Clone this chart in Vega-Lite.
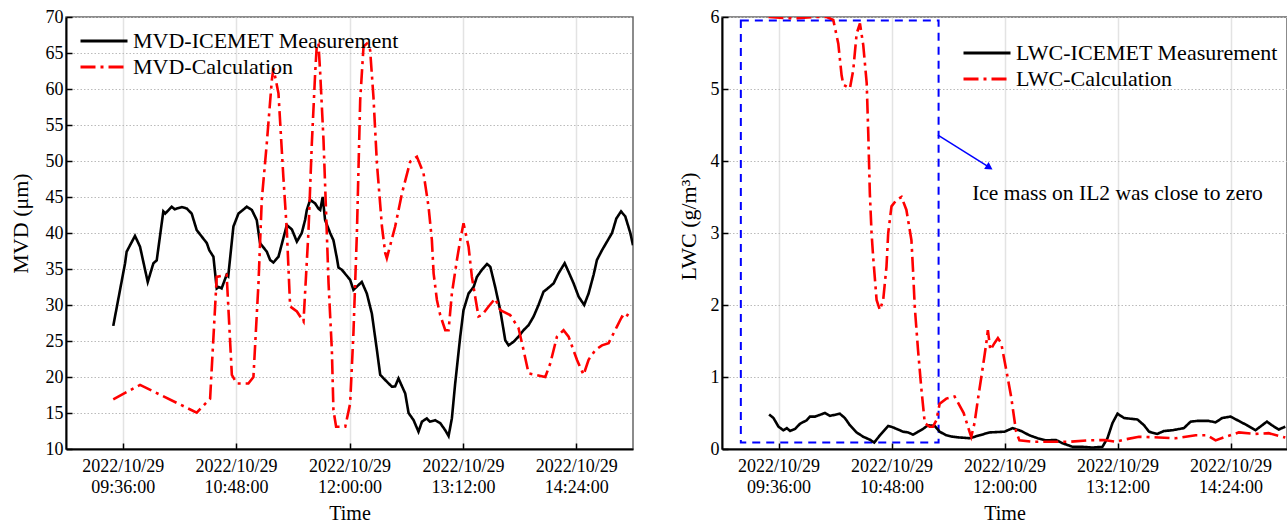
{
  "$schema": "https://vega.github.io/schema/vega-lite/v6.json",
  "padding": {"left": 8, "top": 7, "right": 0, "bottom": 0},
  "datasets": {
    "mvd": [
      {"time":"2022-10-29T09:30:00","series":"MVD-ICEMET Measurement","value":27.1},
      {"time":"2022-10-29T09:37:30","series":"MVD-ICEMET Measurement","value":35.8},
      {"time":"2022-10-29T09:38:30","series":"MVD-ICEMET Measurement","value":37.4},
      {"time":"2022-10-29T09:43:48","series":"MVD-ICEMET Measurement","value":39.6},
      {"time":"2022-10-29T09:47:00","series":"MVD-ICEMET Measurement","value":38.1},
      {"time":"2022-10-29T09:51:54","series":"MVD-ICEMET Measurement","value":33.2},
      {"time":"2022-10-29T09:55:30","series":"MVD-ICEMET Measurement","value":35.8},
      {"time":"2022-10-29T09:57:36","series":"MVD-ICEMET Measurement","value":36.2},
      {"time":"2022-10-29T10:01:48","series":"MVD-ICEMET Measurement","value":43.0},
      {"time":"2022-10-29T10:03:00","series":"MVD-ICEMET Measurement","value":42.7},
      {"time":"2022-10-29T10:07:06","series":"MVD-ICEMET Measurement","value":43.65},
      {"time":"2022-10-29T10:09:00","series":"MVD-ICEMET Measurement","value":43.3},
      {"time":"2022-10-29T10:13:30","series":"MVD-ICEMET Measurement","value":43.6},
      {"time":"2022-10-29T10:16:42","series":"MVD-ICEMET Measurement","value":43.4},
      {"time":"2022-10-29T10:19:48","series":"MVD-ICEMET Measurement","value":42.7},
      {"time":"2022-10-29T10:23:00","series":"MVD-ICEMET Measurement","value":40.4},
      {"time":"2022-10-29T10:26:12","series":"MVD-ICEMET Measurement","value":39.5},
      {"time":"2022-10-29T10:29:24","series":"MVD-ICEMET Measurement","value":38.6},
      {"time":"2022-10-29T10:31:00","series":"MVD-ICEMET Measurement","value":37.6},
      {"time":"2022-10-29T10:33:36","series":"MVD-ICEMET Measurement","value":36.7},
      {"time":"2022-10-29T10:35:42","series":"MVD-ICEMET Measurement","value":32.3},
      {"time":"2022-10-29T10:37:00","series":"MVD-ICEMET Measurement","value":32.5},
      {"time":"2022-10-29T10:38:48","series":"MVD-ICEMET Measurement","value":32.3},
      {"time":"2022-10-29T10:42:00","series":"MVD-ICEMET Measurement","value":34.2},
      {"time":"2022-10-29T10:43:00","series":"MVD-ICEMET Measurement","value":34.0},
      {"time":"2022-10-29T10:46:18","series":"MVD-ICEMET Measurement","value":40.9},
      {"time":"2022-10-29T10:49:30","series":"MVD-ICEMET Measurement","value":42.7},
      {"time":"2022-10-29T10:54:48","series":"MVD-ICEMET Measurement","value":43.65},
      {"time":"2022-10-29T10:58:00","series":"MVD-ICEMET Measurement","value":43.2},
      {"time":"2022-10-29T11:01:06","series":"MVD-ICEMET Measurement","value":41.8},
      {"time":"2022-10-29T11:03:12","series":"MVD-ICEMET Measurement","value":38.6},
      {"time":"2022-10-29T11:07:30","series":"MVD-ICEMET Measurement","value":37.4},
      {"time":"2022-10-29T11:09:36","series":"MVD-ICEMET Measurement","value":36.25},
      {"time":"2022-10-29T11:11:42","series":"MVD-ICEMET Measurement","value":35.9},
      {"time":"2022-10-29T11:14:54","series":"MVD-ICEMET Measurement","value":36.7},
      {"time":"2022-10-29T11:20:12","series":"MVD-ICEMET Measurement","value":41.1},
      {"time":"2022-10-29T11:23:24","series":"MVD-ICEMET Measurement","value":40.5},
      {"time":"2022-10-29T11:26:36","series":"MVD-ICEMET Measurement","value":38.8},
      {"time":"2022-10-29T11:29:42","series":"MVD-ICEMET Measurement","value":40.0},
      {"time":"2022-10-29T11:31:48","series":"MVD-ICEMET Measurement","value":41.8},
      {"time":"2022-10-29T11:32:54","series":"MVD-ICEMET Measurement","value":43.2},
      {"time":"2022-10-29T11:35:00","series":"MVD-ICEMET Measurement","value":44.6},
      {"time":"2022-10-29T11:38:12","series":"MVD-ICEMET Measurement","value":44.1},
      {"time":"2022-10-29T11:40:18","series":"MVD-ICEMET Measurement","value":43.4},
      {"time":"2022-10-29T11:41:24","series":"MVD-ICEMET Measurement","value":43.2},
      {"time":"2022-10-29T11:43:00","series":"MVD-ICEMET Measurement","value":45.0},
      {"time":"2022-10-29T11:44:30","series":"MVD-ICEMET Measurement","value":41.8},
      {"time":"2022-10-29T11:47:42","series":"MVD-ICEMET Measurement","value":40.0},
      {"time":"2022-10-29T11:49:48","series":"MVD-ICEMET Measurement","value":39.0},
      {"time":"2022-10-29T11:52:00","series":"MVD-ICEMET Measurement","value":36.5},
      {"time":"2022-10-29T11:53:00","series":"MVD-ICEMET Measurement","value":35.2},
      {"time":"2022-10-29T11:55:06","series":"MVD-ICEMET Measurement","value":34.9},
      {"time":"2022-10-29T12:00:24","series":"MVD-ICEMET Measurement","value":33.5},
      {"time":"2022-10-29T12:02:30","series":"MVD-ICEMET Measurement","value":32.1},
      {"time":"2022-10-29T12:07:48","series":"MVD-ICEMET Measurement","value":33.2},
      {"time":"2022-10-29T12:11:00","series":"MVD-ICEMET Measurement","value":31.6},
      {"time":"2022-10-29T12:14:12","series":"MVD-ICEMET Measurement","value":28.8},
      {"time":"2022-10-29T12:17:24","series":"MVD-ICEMET Measurement","value":23.75},
      {"time":"2022-10-29T12:19:30","series":"MVD-ICEMET Measurement","value":20.3},
      {"time":"2022-10-29T12:23:42","series":"MVD-ICEMET Measurement","value":19.35},
      {"time":"2022-10-29T12:26:54","series":"MVD-ICEMET Measurement","value":18.65},
      {"time":"2022-10-29T12:29:00","series":"MVD-ICEMET Measurement","value":18.7},
      {"time":"2022-10-29T12:31:06","series":"MVD-ICEMET Measurement","value":19.8},
      {"time":"2022-10-29T12:35:24","series":"MVD-ICEMET Measurement","value":17.7},
      {"time":"2022-10-29T12:37:30","series":"MVD-ICEMET Measurement","value":15.0},
      {"time":"2022-10-29T12:40:42","series":"MVD-ICEMET Measurement","value":14.0},
      {"time":"2022-10-29T12:43:48","series":"MVD-ICEMET Measurement","value":12.4},
      {"time":"2022-10-29T12:46:00","series":"MVD-ICEMET Measurement","value":13.8},
      {"time":"2022-10-29T12:49:06","series":"MVD-ICEMET Measurement","value":14.25},
      {"time":"2022-10-29T12:51:00","series":"MVD-ICEMET Measurement","value":13.8},
      {"time":"2022-10-29T12:54:24","series":"MVD-ICEMET Measurement","value":14.0},
      {"time":"2022-10-29T12:57:36","series":"MVD-ICEMET Measurement","value":13.6},
      {"time":"2022-10-29T13:00:48","series":"MVD-ICEMET Measurement","value":12.6},
      {"time":"2022-10-29T13:02:54","series":"MVD-ICEMET Measurement","value":11.8},
      {"time":"2022-10-29T13:05:00","series":"MVD-ICEMET Measurement","value":14.25},
      {"time":"2022-10-29T13:07:06","series":"MVD-ICEMET Measurement","value":19.1},
      {"time":"2022-10-29T13:10:18","series":"MVD-ICEMET Measurement","value":25.6},
      {"time":"2022-10-29T13:12:24","series":"MVD-ICEMET Measurement","value":29.3},
      {"time":"2022-10-29T13:15:36","series":"MVD-ICEMET Measurement","value":31.6},
      {"time":"2022-10-29T13:18:48","series":"MVD-ICEMET Measurement","value":32.5},
      {"time":"2022-10-29T13:20:54","series":"MVD-ICEMET Measurement","value":33.9},
      {"time":"2022-10-29T13:24:06","series":"MVD-ICEMET Measurement","value":34.9},
      {"time":"2022-10-29T13:27:18","series":"MVD-ICEMET Measurement","value":35.7},
      {"time":"2022-10-29T13:29:24","series":"MVD-ICEMET Measurement","value":35.3},
      {"time":"2022-10-29T13:32:30","series":"MVD-ICEMET Measurement","value":32.5},
      {"time":"2022-10-29T13:35:42","series":"MVD-ICEMET Measurement","value":29.3},
      {"time":"2022-10-29T13:38:54","series":"MVD-ICEMET Measurement","value":25.1},
      {"time":"2022-10-29T13:41:00","series":"MVD-ICEMET Measurement","value":24.4},
      {"time":"2022-10-29T13:44:12","series":"MVD-ICEMET Measurement","value":24.9},
      {"time":"2022-10-29T13:47:18","series":"MVD-ICEMET Measurement","value":25.6},
      {"time":"2022-10-29T13:50:30","series":"MVD-ICEMET Measurement","value":26.5},
      {"time":"2022-10-29T13:53:42","series":"MVD-ICEMET Measurement","value":27.2},
      {"time":"2022-10-29T13:56:54","series":"MVD-ICEMET Measurement","value":28.4},
      {"time":"2022-10-29T14:00:00","series":"MVD-ICEMET Measurement","value":30.0},
      {"time":"2022-10-29T14:03:12","series":"MVD-ICEMET Measurement","value":31.85},
      {"time":"2022-10-29T14:05:18","series":"MVD-ICEMET Measurement","value":32.2},
      {"time":"2022-10-29T14:09:36","series":"MVD-ICEMET Measurement","value":33.0},
      {"time":"2022-10-29T14:12:42","series":"MVD-ICEMET Measurement","value":34.4},
      {"time":"2022-10-29T14:16:36","series":"MVD-ICEMET Measurement","value":35.8},
      {"time":"2022-10-29T14:19:06","series":"MVD-ICEMET Measurement","value":34.6},
      {"time":"2022-10-29T14:22:18","series":"MVD-ICEMET Measurement","value":33.0},
      {"time":"2022-10-29T14:25:30","series":"MVD-ICEMET Measurement","value":31.15},
      {"time":"2022-10-29T14:29:00","series":"MVD-ICEMET Measurement","value":30.0},
      {"time":"2022-10-29T14:31:48","series":"MVD-ICEMET Measurement","value":31.6},
      {"time":"2022-10-29T14:35:00","series":"MVD-ICEMET Measurement","value":34.2},
      {"time":"2022-10-29T14:37:06","series":"MVD-ICEMET Measurement","value":36.25},
      {"time":"2022-10-29T14:40:18","series":"MVD-ICEMET Measurement","value":37.6},
      {"time":"2022-10-29T14:43:30","series":"MVD-ICEMET Measurement","value":38.8},
      {"time":"2022-10-29T14:46:42","series":"MVD-ICEMET Measurement","value":40.0},
      {"time":"2022-10-29T14:49:24","series":"MVD-ICEMET Measurement","value":42.0},
      {"time":"2022-10-29T14:52:24","series":"MVD-ICEMET Measurement","value":43.0},
      {"time":"2022-10-29T14:55:06","series":"MVD-ICEMET Measurement","value":42.3},
      {"time":"2022-10-29T14:58:18","series":"MVD-ICEMET Measurement","value":40.0},
      {"time":"2022-10-29T15:00:00","series":"MVD-ICEMET Measurement","value":38.3},
      {"time":"2022-10-29T09:30:00","series":"MVD-Calculation","value":16.9},
      {"time":"2022-10-29T09:47:00","series":"MVD-Calculation","value":18.9},
      {"time":"2022-10-29T10:23:00","series":"MVD-Calculation","value":15.05},
      {"time":"2022-10-29T10:31:30","series":"MVD-Calculation","value":17.0},
      {"time":"2022-10-29T10:35:42","series":"MVD-Calculation","value":33.9},
      {"time":"2022-10-29T10:42:00","series":"MVD-Calculation","value":34.2},
      {"time":"2022-10-29T10:45:18","series":"MVD-Calculation","value":20.3},
      {"time":"2022-10-29T10:48:24","series":"MVD-Calculation","value":19.1},
      {"time":"2022-10-29T10:55:48","series":"MVD-Calculation","value":19.1},
      {"time":"2022-10-29T10:59:00","series":"MVD-Calculation","value":20.0},
      {"time":"2022-10-29T11:02:12","series":"MVD-Calculation","value":33.0},
      {"time":"2022-10-29T11:04:18","series":"MVD-Calculation","value":44.6},
      {"time":"2022-10-29T11:07:30","series":"MVD-Calculation","value":52.5},
      {"time":"2022-10-29T11:10:42","series":"MVD-Calculation","value":61.25},
      {"time":"2022-10-29T11:11:42","series":"MVD-Calculation","value":62.9},
      {"time":"2022-10-29T11:14:54","series":"MVD-Calculation","value":59.4},
      {"time":"2022-10-29T11:18:00","series":"MVD-Calculation","value":47.8},
      {"time":"2022-10-29T11:20:12","series":"MVD-Calculation","value":40.4},
      {"time":"2022-10-29T11:22:18","series":"MVD-Calculation","value":29.8},
      {"time":"2022-10-29T11:26:36","series":"MVD-Calculation","value":29.1},
      {"time":"2022-10-29T11:30:48","series":"MVD-Calculation","value":27.7},
      {"time":"2022-10-29T11:33:54","series":"MVD-Calculation","value":40.0},
      {"time":"2022-10-29T11:36:06","series":"MVD-Calculation","value":52.5},
      {"time":"2022-10-29T11:38:12","series":"MVD-Calculation","value":62.2},
      {"time":"2022-10-29T11:39:18","series":"MVD-Calculation","value":66.3},
      {"time":"2022-10-29T11:40:18","series":"MVD-Calculation","value":66.3},
      {"time":"2022-10-29T11:41:24","series":"MVD-Calculation","value":62.2},
      {"time":"2022-10-29T11:43:30","series":"MVD-Calculation","value":52.9},
      {"time":"2022-10-29T11:45:36","series":"MVD-Calculation","value":40.0},
      {"time":"2022-10-29T11:46:42","series":"MVD-Calculation","value":33.0},
      {"time":"2022-10-29T11:48:48","series":"MVD-Calculation","value":23.75},
      {"time":"2022-10-29T11:49:48","series":"MVD-Calculation","value":15.4},
      {"time":"2022-10-29T11:51:30","series":"MVD-Calculation","value":13.1},
      {"time":"2022-10-29T11:57:18","series":"MVD-Calculation","value":13.1},
      {"time":"2022-10-29T12:00:24","series":"MVD-Calculation","value":16.3},
      {"time":"2022-10-29T12:02:30","series":"MVD-Calculation","value":26.1},
      {"time":"2022-10-29T12:04:42","series":"MVD-Calculation","value":40.0},
      {"time":"2022-10-29T12:06:48","series":"MVD-Calculation","value":58.5},
      {"time":"2022-10-29T12:08:54","series":"MVD-Calculation","value":65.9},
      {"time":"2022-10-29T12:11:00","series":"MVD-Calculation","value":66.3},
      {"time":"2022-10-29T12:13:06","series":"MVD-Calculation","value":65.4},
      {"time":"2022-10-29T12:15:12","series":"MVD-Calculation","value":58.9},
      {"time":"2022-10-29T12:17:24","series":"MVD-Calculation","value":49.7},
      {"time":"2022-10-29T12:20:36","series":"MVD-Calculation","value":40.9},
      {"time":"2022-10-29T12:22:42","series":"MVD-Calculation","value":37.2},
      {"time":"2022-10-29T12:23:42","series":"MVD-Calculation","value":36.5},
      {"time":"2022-10-29T12:29:00","series":"MVD-Calculation","value":40.9},
      {"time":"2022-10-29T12:33:18","series":"MVD-Calculation","value":45.5},
      {"time":"2022-10-29T12:38:30","series":"MVD-Calculation","value":49.9},
      {"time":"2022-10-29T12:42:48","series":"MVD-Calculation","value":50.6},
      {"time":"2022-10-29T12:47:00","series":"MVD-Calculation","value":48.3},
      {"time":"2022-10-29T12:50:12","series":"MVD-Calculation","value":43.65},
      {"time":"2022-10-29T12:52:18","series":"MVD-Calculation","value":39.0},
      {"time":"2022-10-29T12:53:24","series":"MVD-Calculation","value":34.4},
      {"time":"2022-10-29T12:55:30","series":"MVD-Calculation","value":30.7},
      {"time":"2022-10-29T12:57:36","series":"MVD-Calculation","value":28.6},
      {"time":"2022-10-29T13:00:48","series":"MVD-Calculation","value":26.5},
      {"time":"2022-10-29T13:02:54","series":"MVD-Calculation","value":26.5},
      {"time":"2022-10-29T13:05:00","series":"MVD-Calculation","value":31.6},
      {"time":"2022-10-29T13:08:12","series":"MVD-Calculation","value":36.25},
      {"time":"2022-10-29T13:10:18","series":"MVD-Calculation","value":39.0},
      {"time":"2022-10-29T13:12:24","series":"MVD-Calculation","value":41.35},
      {"time":"2022-10-29T13:15:36","series":"MVD-Calculation","value":38.1},
      {"time":"2022-10-29T13:17:42","series":"MVD-Calculation","value":33.9},
      {"time":"2022-10-29T13:21:54","series":"MVD-Calculation","value":28.4},
      {"time":"2022-10-29T13:24:06","series":"MVD-Calculation","value":28.6},
      {"time":"2022-10-29T13:28:18","series":"MVD-Calculation","value":29.8},
      {"time":"2022-10-29T13:32:30","series":"MVD-Calculation","value":30.9},
      {"time":"2022-10-29T13:35:42","series":"MVD-Calculation","value":29.3},
      {"time":"2022-10-29T13:42:00","series":"MVD-Calculation","value":28.6},
      {"time":"2022-10-29T13:47:18","series":"MVD-Calculation","value":26.8},
      {"time":"2022-10-29T13:50:30","series":"MVD-Calculation","value":23.75},
      {"time":"2022-10-29T13:53:42","series":"MVD-Calculation","value":20.5},
      {"time":"2022-10-29T14:04:18","series":"MVD-Calculation","value":20.0},
      {"time":"2022-10-29T14:07:30","series":"MVD-Calculation","value":21.9},
      {"time":"2022-10-29T14:11:42","series":"MVD-Calculation","value":25.6},
      {"time":"2022-10-29T14:15:54","series":"MVD-Calculation","value":26.5},
      {"time":"2022-10-29T14:19:06","series":"MVD-Calculation","value":25.6},
      {"time":"2022-10-29T14:24:24","series":"MVD-Calculation","value":22.4},
      {"time":"2022-10-29T14:28:36","series":"MVD-Calculation","value":20.3},
      {"time":"2022-10-29T14:31:48","series":"MVD-Calculation","value":22.4},
      {"time":"2022-10-29T14:36:06","series":"MVD-Calculation","value":23.75},
      {"time":"2022-10-29T14:40:18","series":"MVD-Calculation","value":24.4},
      {"time":"2022-10-29T14:44:30","series":"MVD-Calculation","value":24.7},
      {"time":"2022-10-29T14:49:48","series":"MVD-Calculation","value":27.0},
      {"time":"2022-10-29T14:53:00","series":"MVD-Calculation","value":28.4},
      {"time":"2022-10-29T14:55:06","series":"MVD-Calculation","value":28.1},
      {"time":"2022-10-29T14:58:18","series":"MVD-Calculation","value":29.3}
    ],
    "lwc": [
      {"time":"2022-10-29T09:30:00","series":"LWC-ICEMET Measurement","value":0.48},
      {"time":"2022-10-29T09:32:48","series":"LWC-ICEMET Measurement","value":0.43},
      {"time":"2022-10-29T09:36:00","series":"LWC-ICEMET Measurement","value":0.31},
      {"time":"2022-10-29T09:39:06","series":"LWC-ICEMET Measurement","value":0.26},
      {"time":"2022-10-29T09:41:18","series":"LWC-ICEMET Measurement","value":0.29},
      {"time":"2022-10-29T09:43:24","series":"LWC-ICEMET Measurement","value":0.25},
      {"time":"2022-10-29T09:46:36","series":"LWC-ICEMET Measurement","value":0.28},
      {"time":"2022-10-29T09:49:42","series":"LWC-ICEMET Measurement","value":0.35},
      {"time":"2022-10-29T09:54:00","series":"LWC-ICEMET Measurement","value":0.40},
      {"time":"2022-10-29T09:56:06","series":"LWC-ICEMET Measurement","value":0.45},
      {"time":"2022-10-29T09:59:18","series":"LWC-ICEMET Measurement","value":0.45},
      {"time":"2022-10-29T10:05:36","series":"LWC-ICEMET Measurement","value":0.50},
      {"time":"2022-10-29T10:08:48","series":"LWC-ICEMET Measurement","value":0.46},
      {"time":"2022-10-29T10:15:06","series":"LWC-ICEMET Measurement","value":0.49},
      {"time":"2022-10-29T10:18:18","series":"LWC-ICEMET Measurement","value":0.43},
      {"time":"2022-10-29T10:21:30","series":"LWC-ICEMET Measurement","value":0.33},
      {"time":"2022-10-29T10:25:48","series":"LWC-ICEMET Measurement","value":0.23},
      {"time":"2022-10-29T10:30:00","series":"LWC-ICEMET Measurement","value":0.17},
      {"time":"2022-10-29T10:34:12","series":"LWC-ICEMET Measurement","value":0.13},
      {"time":"2022-10-29T10:37:00","series":"LWC-ICEMET Measurement","value":0.09},
      {"time":"2022-10-29T10:40:36","series":"LWC-ICEMET Measurement","value":0.19},
      {"time":"2022-10-29T10:45:54","series":"LWC-ICEMET Measurement","value":0.32},
      {"time":"2022-10-29T10:49:00","series":"LWC-ICEMET Measurement","value":0.30},
      {"time":"2022-10-29T10:55:24","series":"LWC-ICEMET Measurement","value":0.24},
      {"time":"2022-10-29T10:58:36","series":"LWC-ICEMET Measurement","value":0.23},
      {"time":"2022-10-29T11:01:42","series":"LWC-ICEMET Measurement","value":0.20},
      {"time":"2022-10-29T11:04:54","series":"LWC-ICEMET Measurement","value":0.24},
      {"time":"2022-10-29T11:08:06","series":"LWC-ICEMET Measurement","value":0.28},
      {"time":"2022-10-29T11:11:18","series":"LWC-ICEMET Measurement","value":0.33},
      {"time":"2022-10-29T11:15:30","series":"LWC-ICEMET Measurement","value":0.32},
      {"time":"2022-10-29T11:18:42","series":"LWC-ICEMET Measurement","value":0.24},
      {"time":"2022-10-29T11:22:54","series":"LWC-ICEMET Measurement","value":0.19},
      {"time":"2022-10-29T11:27:06","series":"LWC-ICEMET Measurement","value":0.17},
      {"time":"2022-10-29T11:31:24","series":"LWC-ICEMET Measurement","value":0.16},
      {"time":"2022-10-29T11:37:42","series":"LWC-ICEMET Measurement","value":0.15},
      {"time":"2022-10-29T11:44:06","series":"LWC-ICEMET Measurement","value":0.19},
      {"time":"2022-10-29T11:50:24","series":"LWC-ICEMET Measurement","value":0.23},
      {"time":"2022-10-29T12:00:00","series":"LWC-ICEMET Measurement","value":0.24},
      {"time":"2022-10-29T12:05:12","series":"LWC-ICEMET Measurement","value":0.29},
      {"time":"2022-10-29T12:10:36","series":"LWC-ICEMET Measurement","value":0.25},
      {"time":"2022-10-29T12:15:54","series":"LWC-ICEMET Measurement","value":0.19},
      {"time":"2022-10-29T12:21:06","series":"LWC-ICEMET Measurement","value":0.15},
      {"time":"2022-10-29T12:26:30","series":"LWC-ICEMET Measurement","value":0.12},
      {"time":"2022-10-29T12:32:48","series":"LWC-ICEMET Measurement","value":0.125},
      {"time":"2022-10-29T12:37:00","series":"LWC-ICEMET Measurement","value":0.08},
      {"time":"2022-10-29T12:43:24","series":"LWC-ICEMET Measurement","value":0.03},
      {"time":"2022-10-29T12:49:42","series":"LWC-ICEMET Measurement","value":0.03},
      {"time":"2022-10-29T12:56:06","series":"LWC-ICEMET Measurement","value":0.02},
      {"time":"2022-10-29T13:02:24","series":"LWC-ICEMET Measurement","value":0.03},
      {"time":"2022-10-29T13:05:36","series":"LWC-ICEMET Measurement","value":0.15},
      {"time":"2022-10-29T13:08:48","series":"LWC-ICEMET Measurement","value":0.36},
      {"time":"2022-10-29T13:12:00","series":"LWC-ICEMET Measurement","value":0.49},
      {"time":"2022-10-29T13:16:12","series":"LWC-ICEMET Measurement","value":0.43},
      {"time":"2022-10-29T13:20:30","series":"LWC-ICEMET Measurement","value":0.42},
      {"time":"2022-10-29T13:24:42","series":"LWC-ICEMET Measurement","value":0.41},
      {"time":"2022-10-29T13:28:54","series":"LWC-ICEMET Measurement","value":0.33},
      {"time":"2022-10-29T13:32:06","series":"LWC-ICEMET Measurement","value":0.24},
      {"time":"2022-10-29T13:37:24","series":"LWC-ICEMET Measurement","value":0.21},
      {"time":"2022-10-29T13:41:36","series":"LWC-ICEMET Measurement","value":0.25},
      {"time":"2022-10-29T13:46:54","series":"LWC-ICEMET Measurement","value":0.26},
      {"time":"2022-10-29T13:54:18","series":"LWC-ICEMET Measurement","value":0.29},
      {"time":"2022-10-29T13:58:36","series":"LWC-ICEMET Measurement","value":0.38},
      {"time":"2022-10-29T14:02:48","series":"LWC-ICEMET Measurement","value":0.39},
      {"time":"2022-10-29T14:10:00","series":"LWC-ICEMET Measurement","value":0.39},
      {"time":"2022-10-29T14:14:30","series":"LWC-ICEMET Measurement","value":0.37},
      {"time":"2022-10-29T14:18:42","series":"LWC-ICEMET Measurement","value":0.43},
      {"time":"2022-10-29T14:24:00","series":"LWC-ICEMET Measurement","value":0.45},
      {"time":"2022-10-29T14:29:18","series":"LWC-ICEMET Measurement","value":0.39},
      {"time":"2022-10-29T14:34:30","series":"LWC-ICEMET Measurement","value":0.33},
      {"time":"2022-10-29T14:39:54","series":"LWC-ICEMET Measurement","value":0.26},
      {"time":"2022-10-29T14:47:12","series":"LWC-ICEMET Measurement","value":0.38},
      {"time":"2022-10-29T14:50:24","series":"LWC-ICEMET Measurement","value":0.33},
      {"time":"2022-10-29T14:54:42","series":"LWC-ICEMET Measurement","value":0.27},
      {"time":"2022-10-29T14:58:54","series":"LWC-ICEMET Measurement","value":0.31},
      {"time":"2022-10-29T09:29:36","series":"LWC-Calculation","value":6.0},
      {"time":"2022-10-29T09:45:30","series":"LWC-Calculation","value":5.98},
      {"time":"2022-10-29T09:58:12","series":"LWC-Calculation","value":6.0},
      {"time":"2022-10-29T10:06:42","series":"LWC-Calculation","value":6.0},
      {"time":"2022-10-29T10:10:54","series":"LWC-Calculation","value":5.96},
      {"time":"2022-10-29T10:14:06","series":"LWC-Calculation","value":5.63},
      {"time":"2022-10-29T10:16:12","series":"LWC-Calculation","value":5.19},
      {"time":"2022-10-29T10:17:18","series":"LWC-Calculation","value":5.06},
      {"time":"2022-10-29T10:21:30","series":"LWC-Calculation","value":5.01},
      {"time":"2022-10-29T10:23:36","series":"LWC-Calculation","value":5.26},
      {"time":"2022-10-29T10:25:48","series":"LWC-Calculation","value":5.77},
      {"time":"2022-10-29T10:27:54","series":"LWC-Calculation","value":5.91},
      {"time":"2022-10-29T10:30:00","series":"LWC-Calculation","value":5.61},
      {"time":"2022-10-29T10:32:12","series":"LWC-Calculation","value":5.08},
      {"time":"2022-10-29T10:33:12","series":"LWC-Calculation","value":4.38},
      {"time":"2022-10-29T10:34:12","series":"LWC-Calculation","value":3.55},
      {"time":"2022-10-29T10:35:18","series":"LWC-Calculation","value":3.0},
      {"time":"2022-10-29T10:36:18","series":"LWC-Calculation","value":2.67},
      {"time":"2022-10-29T10:38:30","series":"LWC-Calculation","value":2.07},
      {"time":"2022-10-29T10:40:36","series":"LWC-Calculation","value":1.93},
      {"time":"2022-10-29T10:42:42","series":"LWC-Calculation","value":2.07},
      {"time":"2022-10-29T10:44:48","series":"LWC-Calculation","value":2.53},
      {"time":"2022-10-29T10:45:54","series":"LWC-Calculation","value":3.0},
      {"time":"2022-10-29T10:48:00","series":"LWC-Calculation","value":3.37},
      {"time":"2022-10-29T10:51:12","series":"LWC-Calculation","value":3.46},
      {"time":"2022-10-29T10:54:24","series":"LWC-Calculation","value":3.5},
      {"time":"2022-10-29T10:57:30","series":"LWC-Calculation","value":3.32},
      {"time":"2022-10-29T11:00:42","series":"LWC-Calculation","value":2.9},
      {"time":"2022-10-29T11:01:42","series":"LWC-Calculation","value":2.49},
      {"time":"2022-10-29T11:02:48","series":"LWC-Calculation","value":1.98},
      {"time":"2022-10-29T11:04:54","series":"LWC-Calculation","value":1.375},
      {"time":"2022-10-29T11:07:06","series":"LWC-Calculation","value":0.82},
      {"time":"2022-10-29T11:09:12","series":"LWC-Calculation","value":0.36},
      {"time":"2022-10-29T11:12:18","series":"LWC-Calculation","value":0.31},
      {"time":"2022-10-29T11:14:24","series":"LWC-Calculation","value":0.31},
      {"time":"2022-10-29T11:16:36","series":"LWC-Calculation","value":0.40},
      {"time":"2022-10-29T11:18:42","series":"LWC-Calculation","value":0.63},
      {"time":"2022-10-29T11:22:54","series":"LWC-Calculation","value":0.70},
      {"time":"2022-10-29T11:28:12","series":"LWC-Calculation","value":0.73},
      {"time":"2022-10-29T11:34:00","series":"LWC-Calculation","value":0.50},
      {"time":"2022-10-29T11:37:42","series":"LWC-Calculation","value":0.24},
      {"time":"2022-10-29T11:38:48","series":"LWC-Calculation","value":0.17},
      {"time":"2022-10-29T11:40:54","series":"LWC-Calculation","value":0.36},
      {"time":"2022-10-29T11:43:00","series":"LWC-Calculation","value":0.68},
      {"time":"2022-10-29T11:46:12","series":"LWC-Calculation","value":1.14},
      {"time":"2022-10-29T11:48:24","series":"LWC-Calculation","value":1.47},
      {"time":"2022-10-29T11:49:24","series":"LWC-Calculation","value":1.65},
      {"time":"2022-10-29T11:51:00","series":"LWC-Calculation","value":1.375},
      {"time":"2022-10-29T11:53:36","series":"LWC-Calculation","value":1.47},
      {"time":"2022-10-29T11:55:48","series":"LWC-Calculation","value":1.54},
      {"time":"2022-10-29T11:57:54","series":"LWC-Calculation","value":1.47},
      {"time":"2022-10-29T12:01:06","series":"LWC-Calculation","value":1.10},
      {"time":"2022-10-29T12:04:12","series":"LWC-Calculation","value":0.73},
      {"time":"2022-10-29T12:07:24","series":"LWC-Calculation","value":0.24},
      {"time":"2022-10-29T12:09:30","series":"LWC-Calculation","value":0.12},
      {"time":"2022-10-29T12:18:00","series":"LWC-Calculation","value":0.10},
      {"time":"2022-10-29T12:41:18","series":"LWC-Calculation","value":0.10},
      {"time":"2022-10-29T12:54:00","series":"LWC-Calculation","value":0.12},
      {"time":"2022-10-29T13:03:30","series":"LWC-Calculation","value":0.125},
      {"time":"2022-10-29T13:10:54","series":"LWC-Calculation","value":0.10},
      {"time":"2022-10-29T13:17:18","series":"LWC-Calculation","value":0.135},
      {"time":"2022-10-29T13:25:42","series":"LWC-Calculation","value":0.17},
      {"time":"2022-10-29T13:38:24","series":"LWC-Calculation","value":0.16},
      {"time":"2022-10-29T13:49:00","series":"LWC-Calculation","value":0.15},
      {"time":"2022-10-29T14:01:48","series":"LWC-Calculation","value":0.19},
      {"time":"2022-10-29T14:09:06","series":"LWC-Calculation","value":0.19},
      {"time":"2022-10-29T14:14:30","series":"LWC-Calculation","value":0.12},
      {"time":"2022-10-29T14:20:48","series":"LWC-Calculation","value":0.17},
      {"time":"2022-10-29T14:29:18","series":"LWC-Calculation","value":0.23},
      {"time":"2022-10-29T14:39:54","series":"LWC-Calculation","value":0.21},
      {"time":"2022-10-29T14:48:18","series":"LWC-Calculation","value":0.22},
      {"time":"2022-10-29T14:58:54","series":"LWC-Calculation","value":0.16}
    ],
    "box": [{"start":"2022-10-29T09:12:00","end":"2022-10-29T11:18:00","low":0.09,"high":5.95}],
    "arrow": [{"start":"2022-10-29T11:17:36","end":"2022-10-29T11:50:24","y1":4.36,"y2":3.91}],
    "note": [{"time":"2022-10-29T13:12:00","value":3.54,"label":"Ice mass on IL2 was close to zero"}]
  },
  "hconcat": [
    {
      "width": 567,
      "height": 432,
      "layer": [
        {
          "data": {"name": "mvd"},
          "mark": {"type": "line", "strokeWidth": 2.6, "clip": true},
          "encoding": {
            "x": {"field": "time", "type": "temporal",
              "scale": {"domain": [{"year":2022,"month":10,"date":29,"hours":9,"minutes":0},{"year":2022,"month":10,"date":29,"hours":15,"minutes":0}]},
              "axis": {"title": "Time", "values": [
                {"year":2022,"month":10,"date":29,"hours":9,"minutes":36},
                {"year":2022,"month":10,"date":29,"hours":10,"minutes":48},
                {"year":2022,"month":10,"date":29,"hours":12,"minutes":0},
                {"year":2022,"month":10,"date":29,"hours":13,"minutes":12},
                {"year":2022,"month":10,"date":29,"hours":14,"minutes":24}],
                "labelExpr": "[timeFormat(datum.value, '%Y/%m/%d'), timeFormat(datum.value, '%H:%M:%S')]"}},
            "y": {"field": "value", "type": "quantitative",
              "scale": {"domain": [10, 70], "nice": false, "zero": false},
              "axis": {"title": "MVD (μm)", "format": "d", "titlePadding": 13, "titleY": 206, "values": [10,15,20,25,30,35,40,45,50,55,60,65,70]}},
            "color": {"field": "series", "type": "nominal",
              "scale": {"domain": ["MVD-ICEMET Measurement", "MVD-Calculation"], "range": ["#000000", "#ff0000"]},
              "legend": {"title": null, "orient": "none", "legendX": 13, "legendY": 13}},
            "strokeDash": {"field": "series", "type": "nominal",
              "scale": {"domain": ["MVD-ICEMET Measurement", "MVD-Calculation"], "range": [[1, 0], [15, 5, 3, 5]]},
              "legend": {"title": null, "orient": "none", "legendX": 13, "legendY": 13}}
          }
        }
      ]
    },
    {
      "width": 565,
      "height": 432,
      "layer": [
        {
          "data": {"name": "box"},
          "mark": {"type": "rect", "fill": "transparent", "stroke": "#0000ff", "strokeWidth": 2, "strokeDash": [8, 6]},
          "encoding": {
            "x": {"field": "start", "type": "temporal"},
            "x2": {"field": "end"},
            "y": {"field": "low", "type": "quantitative"},
            "y2": {"field": "high"}
          }
        },
        {
          "data": {"name": "lwc"},
          "mark": {"type": "line", "strokeWidth": 2.6, "clip": true},
          "encoding": {
            "x": {"field": "time", "type": "temporal",
              "scale": {"domain": [{"year":2022,"month":10,"date":29,"hours":9,"minutes":0},{"year":2022,"month":10,"date":29,"hours":15,"minutes":0}]},
              "axis": {"title": "Time", "values": [
                {"year":2022,"month":10,"date":29,"hours":9,"minutes":36},
                {"year":2022,"month":10,"date":29,"hours":10,"minutes":48},
                {"year":2022,"month":10,"date":29,"hours":12,"minutes":0},
                {"year":2022,"month":10,"date":29,"hours":13,"minutes":12},
                {"year":2022,"month":10,"date":29,"hours":14,"minutes":24}],
                "labelExpr": "[timeFormat(datum.value, '%Y/%m/%d'), timeFormat(datum.value, '%H:%M:%S')]"}},
            "y": {"field": "value", "type": "quantitative",
              "scale": {"domain": [0, 6], "nice": false},
              "axis": {"title": "LWC (g/m³)", "format": "d", "titlePadding": 10, "titleY": 209, "values": [0,1,2,3,4,5,6]}},
            "color": {"field": "series", "type": "nominal",
              "scale": {"domain": ["LWC-ICEMET Measurement", "LWC-Calculation"], "range": ["#000000", "#ff0000"]},
              "legend": {"title": null, "orient": "none", "legendX": 240, "legendY": 25}},
            "strokeDash": {"field": "series", "type": "nominal",
              "scale": {"domain": ["LWC-ICEMET Measurement", "LWC-Calculation"], "range": [[1, 0], [15, 5, 3, 5]]},
              "legend": {"title": null, "orient": "none", "legendX": 240, "legendY": 25}}
          }
        },
        {
          "data": {"name": "arrow"},
          "mark": {"type": "rule", "color": "#0000ff", "strokeWidth": 1.5},
          "encoding": {
            "x": {"field": "start", "type": "temporal"},
            "x2": {"field": "end"},
            "y": {"field": "y1", "type": "quantitative"},
            "y2": {"field": "y2"}
          }
        },
        {
          "data": {"name": "arrow"},
          "mark": {"type": "point", "shape": "triangle-right", "filled": true, "color": "#0000ff", "size": 70, "angle": 32, "opacity": 1},
          "encoding": {
            "x": {"field": "end", "type": "temporal"},
            "y": {"field": "y2", "type": "quantitative"}
          }
        },
        {
          "data": {"name": "note"},
          "mark": {"type": "text", "fontSize": 21.5, "font": "Liberation Serif", "color": "#000000", "align": "center", "baseline": "middle"},
          "encoding": {
            "x": {"field": "time", "type": "temporal"},
            "y": {"field": "value", "type": "quantitative"},
            "text": {"field": "label"}
          }
        }
      ]
    }
  ],
  "resolve": {"scale": {"color": "independent", "strokeDash": "independent", "x": "independent", "y": "independent"}, "legend": {"color": "independent", "strokeDash": "independent"}},
  "config": {
    "font": "Liberation Serif",
    "view": {"stroke": "#666666", "strokeWidth": 1.5},
    "concat": {"spacing": 42},
    "axis": {
      "labelFont": "Liberation Serif", "titleFont": "Liberation Serif",
      "labelFontSize": 18, "titleFontSize": 20, "titleFontWeight": "normal",
      "labelColor": "#000000", "titleColor": "#000000",
      "domainColor": "#000000", "domainWidth": 2,
      "tickColor": "#000000", "tickWidth": 1.5, "tickSize": -6,
      "labelPadding": 14
    },
    "axisX": {"gridColor": "#e3e3e3", "gridWidth": 1.5, "labelLineHeight": 21, "titlePadding": 7, "labelAlign": "center"},
    "axisY": {"gridColor": "#bbbbbb", "gridDash": [1.5, 2], "gridWidth": 1, "labelPadding": 9, "titleFontSize": 22},
    "legend": {
      "symbolType": "stroke", "symbolSize": 2209, "symbolStrokeWidth": 3, "clipHeight": 22,
      "labelFont": "Liberation Serif", "labelFontSize": 22, "labelColor": "#000000",
      "rowPadding": 4, "labelOffset": 4, "padding": 0, "labelLimit": 400
    }
  }
}
